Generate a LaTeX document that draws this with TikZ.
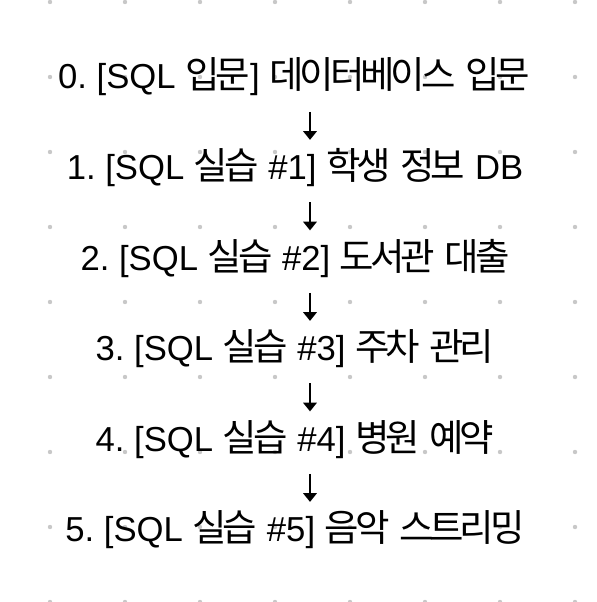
\documentclass[tikz,border=0pt]{standalone}
\usepackage{fontspec}
\setmainfont{Liberation Sans}
\newfontfamily\kofont[Scale=1.08,LetterSpace=-11]{Noto Sans CJK KR}
\usepackage{tikz}
\usetikzlibrary{arrows.meta}
\frenchspacing

\begin{document}
\begin{tikzpicture}[x=0.75pt,y=0.75pt,yscale=-1,xscale=1,
  stagetext/.style={anchor=base, inner sep=0pt, text height=19.5pt, text depth=6pt, font=\fontsize{26pt}{31pt}\selectfont},
  nextarrow/.style={-{Triangle[width=10pt,length=6.5pt]}, line width=1.5pt, shorten <=11pt, shorten >=10pt},
  griddot/.style={fill={rgb, 255:red, 200; green, 200; blue, 200 }}]
%set diagram left start at 0, and has height of 602
\useasboundingbox (0,0) rectangle (596,602);
\fill [white] (0,0) rectangle (596,602);

%Dot grid
\foreach \dx in {50,125,...,575}
  \foreach \dy in {2,77,...,602}
    \fill [griddot] (\dx,\dy) circle (1.65pt);

% Text Node
\node [stagetext] (s0) at (294,89) {0. [SQL {\kofont 입문}] {\kofont 데이터베이스} {\kofont 입문}};
% Text Node
\node [stagetext] (s1) at (295,179.5) {1. [SQL {\kofont 실습} \#1] {\kofont 학생} {\kofont 정보} DB};
% Text Node
\node [stagetext] (s2) at (295,270) {2. [SQL {\kofont 실습} \#2] {\kofont 도서관} {\kofont 대출}};
% Text Node
\node [stagetext] (s3) at (295,360.5) {3. [SQL {\kofont 실습} \#3] {\kofont 주차} {\kofont 관리}};
% Text Node
\node [stagetext] (s4) at (295,451) {4. [SQL {\kofont 실습} \#4] {\kofont 병원} {\kofont 예약}};
% Text Node
\node [stagetext] (s5) at (295,541.5) {5. [SQL {\kofont 실습} \#5] {\kofont 음악} {\kofont 스트리밍}};

%Arrows
\coordinate (ax) at (310,0);
\draw [nextarrow] (s0.south -| ax) -- (s1.north -| ax);
\draw [nextarrow] (s1.south -| ax) -- (s2.north -| ax);
\draw [nextarrow] (s2.south -| ax) -- (s3.north -| ax);
\draw [nextarrow] (s3.south -| ax) -- (s4.north -| ax);
\draw [nextarrow] (s4.south -| ax) -- (s5.north -| ax);

\end{tikzpicture}
\end{document}
